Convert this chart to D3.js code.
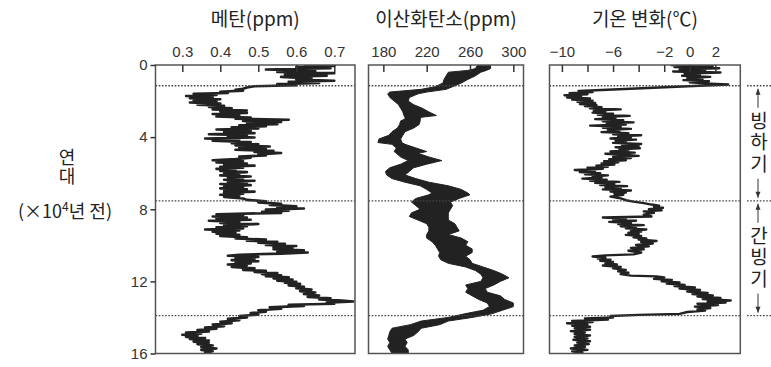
<!DOCTYPE html>
<html><head><meta charset="utf-8">
<script src="https://cdn.jsdelivr.net/npm/d3@7"></script>
<style>body{margin:0;background:#fff}</style>
</head><body><svg id="c" width="771" height="367"></svg>
<script>
// ---------- data ----------
const ageTicks = [0, 4, 8, 12, 16];
const boundaryAges = [1.15, 7.53, 13.9];
const ch4Ticks = [0.3, 0.4, 0.5, 0.6, 0.7];
const co2Ticks = [180, 220, 260, 300];
const tempTicks = [-10, -8, -6, -4, -2, 0, 2];
const tempTickLabels = [-10, -6, -2, 0, 2];
const titles = ["메탄(ppm)", "이산화탄소(ppm)", "기온 변화(℃)"];
const periods = [{name: "빙하기", from: 1.15, to: 7.53}, {name: "간빙기", from: 7.53, to: 13.9}];

// methane [age (10^4 yr), ppm]
const ch4 = [
[0.00,0.62],[0.05,0.70],[0.12,0.60],[0.18,0.69],[0.25,0.52],[0.32,0.65],[0.38,0.55],[0.45,0.70],[0.52,0.57],[0.60,0.68],
[0.66,0.56],[0.74,0.64],[0.80,0.60],[0.87,0.70],[0.93,0.58],[1.00,0.66],[1.06,0.55],[1.12,0.60],[1.18,0.49],[1.25,0.47],
[1.32,0.46],[1.38,0.44],[1.42,0.46],[1.48,0.40],[1.55,0.42],[1.60,0.33],[1.66,0.39],[1.72,0.31],[1.78,0.38],[1.84,0.32],
[1.90,0.40],[1.96,0.33],[2.02,0.39],[2.08,0.32],[2.14,0.40],[2.20,0.34],[2.26,0.41],[2.32,0.37],[2.40,0.43],[2.46,0.38],
[2.52,0.47],[2.58,0.40],[2.66,0.47],[2.72,0.38],[2.80,0.45],[2.86,0.39],[2.92,0.48],[2.98,0.44],[3.04,0.58],[3.10,0.46],
[3.16,0.56],[3.22,0.47],[3.28,0.55],[3.34,0.45],[3.40,0.52],[3.46,0.43],[3.52,0.50],[3.58,0.39],[3.64,0.48],[3.70,0.41],
[3.78,0.49],[3.84,0.37],[3.90,0.47],[3.96,0.42],[4.02,0.49],[4.08,0.36],[4.14,0.45],[4.20,0.38],[4.28,0.48],[4.34,0.43],
[4.40,0.50],[4.46,0.44],[4.52,0.53],[4.58,0.45],[4.64,0.52],[4.70,0.44],[4.76,0.54],[4.82,0.49],[4.88,0.56],[4.96,0.50],
[5.02,0.52],[5.08,0.45],[5.14,0.48],[5.22,0.44],[5.28,0.38],[5.34,0.46],[5.40,0.39],[5.46,0.47],[5.52,0.41],[5.58,0.49],
[5.64,0.40],[5.70,0.46],[5.76,0.39],[5.82,0.44],[5.88,0.40],[5.94,0.47],[6.00,0.41],[6.06,0.45],[6.12,0.40],[6.18,0.48],
[6.24,0.42],[6.30,0.46],[6.36,0.41],[6.42,0.49],[6.48,0.42],[6.54,0.47],[6.60,0.40],[6.66,0.48],[6.72,0.41],[6.78,0.46],
[6.84,0.40],[6.90,0.47],[6.96,0.41],[7.02,0.49],[7.08,0.41],[7.14,0.46],[7.20,0.40],[7.26,0.45],[7.32,0.41],[7.40,0.46],
[7.48,0.47],[7.56,0.52],[7.62,0.50],[7.70,0.56],[7.76,0.53],[7.84,0.60],[7.90,0.55],[7.96,0.62],[8.02,0.52],[8.08,0.58],
[8.14,0.51],[8.20,0.56],[8.28,0.39],[8.34,0.46],[8.40,0.38],[8.46,0.47],[8.52,0.39],[8.58,0.48],[8.64,0.37],[8.70,0.45],
[8.76,0.40],[8.82,0.50],[8.88,0.41],[8.94,0.47],[9.00,0.39],[9.06,0.46],[9.12,0.36],[9.18,0.45],[9.24,0.38],[9.30,0.44],
[9.36,0.39],[9.42,0.45],[9.48,0.40],[9.56,0.47],[9.62,0.44],[9.68,0.52],[9.74,0.47],[9.80,0.55],[9.86,0.50],[9.92,0.57],
[9.98,0.52],[10.04,0.60],[10.10,0.54],[10.16,0.59],[10.22,0.54],[10.28,0.62],[10.34,0.55],[10.40,0.63],[10.46,0.56],[10.52,0.45],
[10.58,0.42],[10.64,0.50],[10.70,0.44],[10.76,0.49],[10.82,0.43],[10.88,0.50],[10.94,0.44],[11.00,0.48],[11.06,0.42],[11.12,0.47],
[11.20,0.43],[11.28,0.49],[11.36,0.46],[11.42,0.52],[11.48,0.49],[11.54,0.55],[11.60,0.51],[11.66,0.56],[11.72,0.52],[11.78,0.58],
[11.84,0.54],[11.90,0.59],[11.96,0.55],[12.02,0.60],[12.08,0.57],[12.14,0.61],[12.22,0.58],[12.30,0.62],[12.38,0.60],[12.46,0.64],
[12.54,0.61],[12.62,0.65],[12.70,0.62],[12.78,0.66],[12.86,0.63],[12.94,0.69],[13.00,0.66],[13.06,0.72],[13.12,0.75],[13.18,0.68],
[13.24,0.70],[13.30,0.58],[13.36,0.62],[13.44,0.53],[13.52,0.56],[13.60,0.50],[13.68,0.52],[13.76,0.48],[13.84,0.50],[13.92,0.45],
[14.00,0.47],[14.08,0.42],[14.16,0.45],[14.24,0.40],[14.32,0.43],[14.40,0.38],[14.48,0.41],[14.56,0.36],[14.62,0.39],[14.70,0.34],
[14.78,0.37],[14.84,0.31],[14.90,0.35],[14.96,0.30],[15.02,0.34],[15.08,0.31],[15.14,0.36],[15.20,0.32],[15.28,0.37],[15.34,0.33],
[15.40,0.37],[15.48,0.34],[15.56,0.38],[15.64,0.35],[15.72,0.39],[15.80,0.35],[15.88,0.38],[15.96,0.36],[16.00,0.37]
];

// carbon dioxide band [age, low ppm, high ppm]
const co2 = [
[0.00,267,279],[0.20,265,279],[0.30,258,275],[0.40,240,270],[0.60,238,265],[0.80,236,258],[1.00,235,252],[1.20,228,244],
[1.35,215,238],[1.50,186,220],[1.60,184,212],[1.80,186,204],[2.00,190,203],[2.20,194,208],[2.40,196,216],[2.60,198,222],
[2.80,199,229],[2.90,200,215],[3.00,200,214],[3.10,196,214],[3.30,195,213],[3.50,193,208],[3.70,188,200],[3.90,185,198],
[4.10,176,196],[4.30,175,197],[4.40,188,200],[4.60,192,210],[4.80,190,220],[4.90,192,212],[5.10,196,222],[5.30,203,234],
[5.50,196,220],[5.70,186,208],[5.90,182,204],[6.10,183,200],[6.30,188,210],[6.50,200,222],[6.70,214,240],[6.90,220,252],
[7.10,225,258],[7.20,222,260],[7.40,210,250],[7.60,206,242],[7.80,210,244],[8.00,214,242],[8.20,206,240],[8.40,204,240],
[8.60,212,240],[8.80,220,246],[9.00,222,248],[9.20,222,250],[9.40,220,240],[9.60,220,252],[9.80,225,258],[10.00,228,256],
[10.20,230,262],[10.40,232,262],[10.60,231,256],[10.80,233,260],[11.00,240,262],[11.20,256,272],[11.40,265,282],[11.60,270,290],
[11.80,272,296],[12.00,270,288],[12.20,256,282],[12.40,258,274],[12.60,256,276],[12.80,262,288],[13.00,268,292],[13.20,276,300],
[13.40,278,300],[13.60,272,290],[13.80,255,280],[14.00,240,262],[14.20,215,240],[14.40,205,232],[14.60,188,215],[14.80,186,212],
[15.00,185,208],[15.20,184,200],[15.40,186,202],[15.60,184,200],[15.80,186,203],[16.00,188,203]
];

// temperature change [age, °C]
const temp = [
[0.00,-1.5],[0.06,1.8],[0.12,-1.2],[0.18,2.3],[0.24,-0.8],[0.30,1.2],[0.36,-1.3],[0.42,2.4],[0.48,-0.4],[0.54,0.8],
[0.60,-0.6],[0.66,1.6],[0.72,-0.2],[0.78,1.0],[0.84,-0.5],[0.90,1.5],[0.96,0.0],[1.02,1.2],[1.08,3.0],[1.44,-8.7],
[1.50,-7.6],[1.56,-9.4],[1.62,-8.0],[1.68,-9.8],[1.74,-8.5],[1.80,-9.6],[1.86,-7.8],[1.92,-9.2],[1.98,-7.6],[2.04,-8.8],
[2.10,-7.4],[2.16,-8.6],[2.22,-7.3],[2.28,-8.2],[2.34,-6.9],[2.40,-7.8],[2.46,-5.4],[2.52,-7.5],[2.58,-6.6],[2.64,-7.6],
[2.70,-6.0],[2.76,-7.2],[2.82,-4.7],[2.88,-6.8],[2.94,-5.8],[3.00,-7.4],[3.06,-5.2],[3.12,-6.8],[3.18,-4.4],[3.24,-6.5],
[3.30,-5.0],[3.36,-7.8],[3.42,-5.4],[3.48,-6.8],[3.54,-4.6],[3.60,-6.4],[3.66,-5.5],[3.72,-6.9],[3.78,-4.8],[3.84,-6.0],
[3.90,-3.8],[3.96,-5.6],[4.02,-4.6],[4.08,-6.2],[4.14,-4.2],[4.20,-5.8],[4.26,-5.0],[4.32,-6.0],[4.38,-3.8],[4.44,-5.3],
[4.50,-4.0],[4.56,-5.8],[4.62,-3.9],[4.68,-5.5],[4.74,-4.8],[4.80,-6.2],[4.86,-4.3],[4.92,-6.6],[4.98,-5.2],[5.04,-4.0],
[5.10,-6.0],[5.16,-4.6],[5.22,-6.3],[5.28,-5.0],[5.34,-6.7],[5.40,-5.6],[5.46,-6.9],[5.52,-5.9],[5.58,-7.3],[5.64,-6.4],
[5.70,-8.0],[5.76,-6.8],[5.82,-9.0],[5.88,-7.4],[5.94,-8.6],[6.00,-7.0],[6.06,-8.2],[6.12,-6.4],[6.18,-7.6],[6.24,-6.9],
[6.30,-8.4],[6.36,-6.5],[6.42,-7.8],[6.48,-5.5],[6.54,-7.4],[6.60,-5.9],[6.66,-7.0],[6.72,-4.9],[6.78,-6.6],[6.84,-5.4],
[6.90,-6.8],[6.96,-4.6],[7.02,-6.2],[7.08,-5.0],[7.14,-5.9],[7.20,-5.2],[7.30,-6.2],[7.40,-5.4],[7.50,-5.0],[7.58,-4.4],
[7.66,-3.6],[7.74,-3.0],[7.80,-2.4],[7.86,-2.8],[7.92,-2.1],[8.00,-3.2],[8.06,-2.2],[8.12,-3.6],[8.20,-2.8],[8.30,-3.6],
[8.40,-3.0],[8.46,-6.8],[8.52,-5.0],[8.58,-6.0],[8.64,-4.2],[8.70,-6.3],[8.76,-4.6],[8.82,-5.6],[8.88,-3.6],[8.94,-5.4],
[9.00,-4.2],[9.06,-5.0],[9.12,-3.4],[9.18,-4.6],[9.24,-3.8],[9.30,-4.8],[9.36,-4.0],[9.42,-5.0],[9.48,-3.8],[9.56,-4.4],
[9.62,-3.4],[9.68,-4.0],[9.76,-2.6],[9.82,-3.8],[9.90,-2.9],[9.98,-4.2],[10.06,-3.2],[10.14,-4.6],[10.22,-3.6],[10.30,-4.8],
[10.40,-3.8],[10.50,-4.4],[10.56,-6.6],[10.62,-7.6],[10.68,-6.6],[10.74,-7.2],[10.80,-6.2],[10.86,-7.0],[10.92,-6.0],[11.00,-6.6],
[11.06,-5.7],[11.12,-6.8],[11.20,-5.4],[11.28,-6.0],[11.36,-5.0],[11.44,-5.6],[11.52,-4.8],[11.60,-5.4],[11.68,-4.6],[11.72,-2.6],
[11.78,-2.0],[11.86,-2.8],[11.92,-1.4],[12.00,-2.2],[12.06,-0.8],[12.12,-1.8],[12.20,-0.4],[12.26,-1.2],[12.34,0.4],[12.40,-0.8],
[12.48,0.8],[12.56,-0.2],[12.64,1.4],[12.70,0.2],[12.78,1.8],[12.84,0.6],[12.92,2.4],[12.98,1.0],[13.06,3.2],[13.12,1.4],
[13.18,2.8],[13.24,0.6],[13.32,2.2],[13.40,0.4],[13.48,1.6],[13.56,0.6],[13.62,1.2],[13.70,-0.2],[13.80,-0.8],[13.86,-4.0],
[13.92,-6.2],[14.00,-6.0],[14.06,-8.2],[14.12,-6.4],[14.20,-9.2],[14.26,-7.6],[14.32,-9.6],[14.40,-8.0],[14.46,-9.2],[14.52,-7.8],
[14.60,-9.0],[14.68,-7.8],[14.76,-9.3],[14.84,-8.2],[14.92,-9.0],[15.00,-7.8],[15.08,-9.0],[15.16,-8.0],[15.24,-9.1],[15.32,-7.8],
[15.40,-8.8],[15.48,-7.9],[15.56,-9.0],[15.64,-8.2],[15.72,-9.3],[15.80,-8.0],[15.88,-9.2],[15.96,-8.4],[16.00,-8.6]
];

// ---------- drawing ----------
const svg = d3.select("#c");
const FONT_NUM = "'Liberation Sans', Arial, sans-serif";
const FONT_KR = "'Noto Sans CJK KR', 'Noto Sans', sans-serif";
const INK = "#222", FRAME = "#555";

const y = d3.scaleLinear().domain([0, 16]).range([65, 353.5]);

const panels = [
  {x: d3.scaleLinear().domain([0.2295, 0.7545]).range([155.5, 355]), ticks: ch4Ticks, labels: ch4Ticks, fmt: d3.format(".1f"), title: titles[0]},
  {x: d3.scaleLinear().domain([166.3, 309.4]).range([368.5, 523.5]), ticks: co2Ticks, labels: co2Ticks, fmt: d3.format("d"), title: titles[1]},
  {x: d3.scaleLinear().domain([-10.97, 3.95]).range([549.5, 740.3]), ticks: tempTicks, labels: tempTickLabels, fmt: d3.format("d"), title: titles[2]}
];

const defs = svg.append("defs");
panels.forEach((p, i) => {
  const [x0, x1] = p.x.range();
  defs.append("clipPath").attr("id", "clip" + i).append("rect")
    .attr("x", x0).attr("y", y(0)).attr("width", x1 - x0).attr("height", y(16) - y(0));
});

// data marks
const g0 = svg.append("g").attr("clip-path", "url(#clip0)");
g0.append("path").datum(ch4)
  .attr("d", d3.line().x(d => panels[0].x(d[1])).y(d => y(d[0])))
  .attr("fill", "none").attr("stroke", INK).attr("stroke-width", 2.6).attr("stroke-linejoin", "round");

const g1 = svg.append("g").attr("clip-path", "url(#clip1)");
g1.append("path").datum(co2)
  .attr("d", d3.area().y(d => y(d[0])).x0(d => panels[1].x(d[1])).x1(d => panels[1].x(d[2])))
  .attr("fill", INK).attr("stroke", INK).attr("stroke-width", 1);

const g2 = svg.append("g").attr("clip-path", "url(#clip2)");
g2.append("path").datum(temp)
  .attr("d", d3.line().x(d => panels[2].x(d[1])).y(d => y(d[0])))
  .attr("fill", "none").attr("stroke", INK).attr("stroke-width", 2.4).attr("stroke-linejoin", "round");

// frames, ticks, boundaries, titles
panels.forEach((p, i) => {
  const [x0, x1] = p.x.range();
  const g = svg.append("g");
  boundaryAges.forEach(a => {
    g.append("line").attr("x1", x0).attr("x2", x1).attr("y1", y(a)).attr("y2", y(a))
      .attr("stroke", "#444").attr("stroke-width", 1.3).attr("stroke-dasharray", "1.6,1.6");
  });
  g.append("rect").attr("x", x0).attr("y", y(0)).attr("width", x1 - x0).attr("height", y(16) - y(0))
    .attr("fill", "none").attr("stroke", FRAME).attr("stroke-width", 1.5);
  const axis = d3.axisTop(p.x).tickValues(p.ticks).tickSizeInner(-7).tickSizeOuter(0)
    .tickFormat(d => p.labels.includes(d) ? p.fmt(d) : "");
  const ag = svg.append("g").attr("transform", `translate(0,${y(0)})`).call(axis);
  ag.select(".domain").remove();
  ag.selectAll(".tick line").attr("stroke", "#333").attr("stroke-width", 1.5);
  ag.selectAll(".tick text").attr("y", -8).attr("dy", 0)
    .attr("font-family", FONT_NUM).attr("font-size", 15).attr("fill", "#333");
  svg.append("text").attr("x", (x0 + x1) / 2).attr("y", 26).attr("text-anchor", "middle")
    .attr("font-family", FONT_KR).attr("font-size", 19).attr("fill", "#222").text(p.title);
});

// left age axis
const ya = d3.axisLeft(y).tickValues(ageTicks).tickSizeInner(5).tickSizeOuter(0).tickPadding(3);
const yg = svg.append("g").attr("transform", `translate(${panels[0].x.range()[0]},0)`).call(ya);
yg.select(".domain").remove();
yg.selectAll(".tick line").attr("stroke", "#333").attr("stroke-width", 1.5);
yg.selectAll(".tick text").attr("font-family", FONT_NUM).attr("font-size", 15).attr("fill", "#333");

// left label
const lab = svg.append("g").attr("font-family", FONT_KR).attr("fill", "#222").attr("text-anchor", "middle");
lab.append("text").attr("x", 67).attr("y", 167).attr("font-size", 18)
  .style("writing-mode", "vertical-rl").attr("letter-spacing", 1).text("연대");
const t3 = lab.append("text").attr("x", 65).attr("y", 218).attr("font-size", 18);
t3.append("tspan").text("(×10");
t3.append("tspan").attr("font-size", 12).attr("dy", -7).text("4");
t3.append("tspan").attr("dy", 7).text("년 전)");

// right period annotations
const ax = 758;
boundaryAges.forEach(a => {
  svg.append("line").attr("x1", 747).attr("x2", 771).attr("y1", y(a)).attr("y2", y(a))
    .attr("stroke", "#444").attr("stroke-width", 1.3).attr("stroke-dasharray", "1.6,1.6");
});
function arrow(yFrom, yTo) {
  svg.append("line").attr("x1", ax).attr("x2", ax).attr("y1", yFrom).attr("y2", yTo)
    .attr("stroke", "#333").attr("stroke-width", 1);
  const s = yTo < yFrom ? 1 : -1;
  svg.append("path").attr("d", `M${ax},${yTo} L${ax - 2.5},${yTo + s * 6} L${ax + 2.5},${yTo + s * 6} Z`).attr("fill", "#333");
}
periods.forEach(pr => {
  const top = y(pr.from), bot = y(pr.to);
  const mid = (top + bot) / 2;
  arrow(top + 22, top + 3);
  arrow(bot - 22, bot - 3);
  svg.append("text").attr("x", ax + 1).attr("y", mid)
    .style("writing-mode", "vertical-rl").attr("letter-spacing", 2.5)
    .attr("text-anchor", "middle").attr("font-family", FONT_KR).attr("font-size", 19).attr("fill", "#222").text(pr.name);
});
</script>
</body></html>
